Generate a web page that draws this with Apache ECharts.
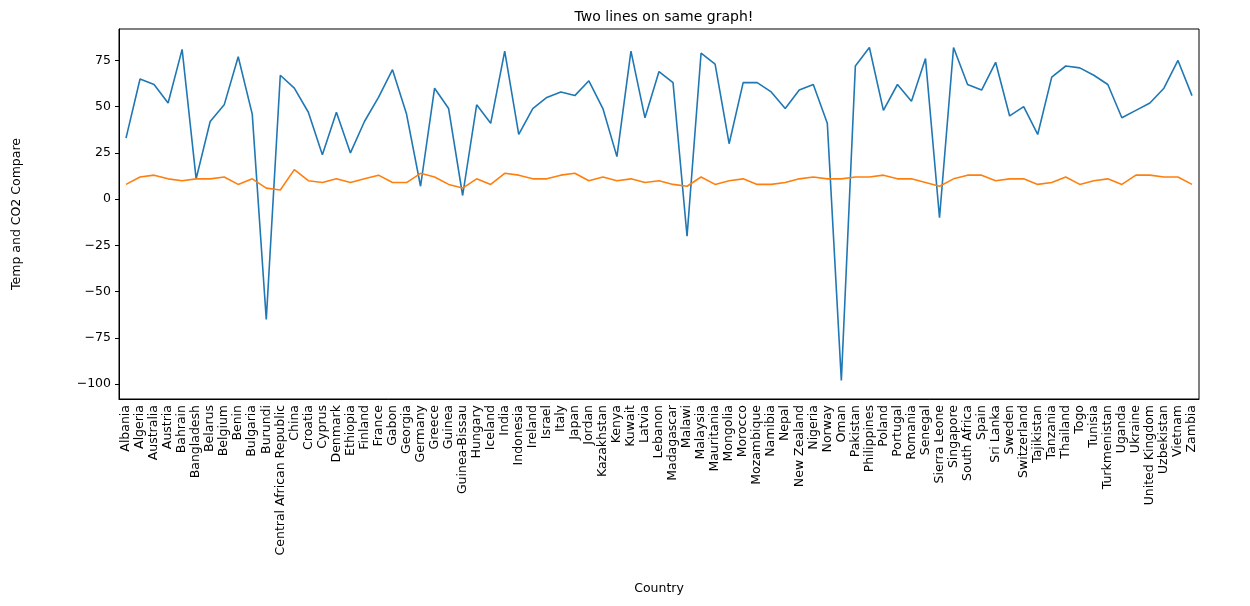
<!DOCTYPE html>
<html>
<head>
<meta charset="utf-8">
<script src="https://cdn.jsdelivr.net/npm/echarts@6/dist/echarts.min.js"></script>
<style>html,body{margin:0;background:#fff}#c{width:1250px;height:606px}</style>
</head>
<body>
<div id="c"></div>
<script>
var countries = ['Albania','Algeria','Australia','Austria','Bahrain','Bangladesh','Belarus','Belgium','Benin','Bulgaria','Burundi','Central African Republic','China','Croatia','Cyprus','Denmark','Ethiopia','Finland','France','Gabon','Georgia','Germany','Greece','Guinea','Guinea-Bissau','Hungary','Iceland','India','Indonesia','Ireland','Israel','Italy','Japan','Jordan','Kazakhstan','Kenya','Kuwait','Latvia','Lebanon','Madagascar','Malawi','Malaysia','Mauritania','Mongolia','Morocco','Mozambique','Namibia','Nepal','New Zealand','Nigeria','Norway','Oman','Pakistan','Philippines','Poland','Portugal','Romania','Senegal','Sierra Leone','Singapore','South Africa','Spain','Sri Lanka','Sweden','Switzerland','Tajikistan','Tanzania','Thailand','Togo','Tunisia','Turkmenistan','Uganda','Ukraine','United Kingdom','Uzbekistan','Vietnam','Zambia'];

var blueLine = [33,65,62,52,81,11,42,51,77,46,-65,67,60,47,24,47,25,42,55,70,46,7,60,49,2,51,41,80,35,49,55,58,56,64,49,23,80,44,69,63,-20,79,73,30,63,63,58,49,59,62,41,-98,72,82,48,62,53,76,-10,82,62,59,74,45,50,35,66,72,71,67,62,44,48,52,60,75,56];

var orangeLine = [8,12,13,11,10,11,11,12,8,11,6,5,16,10,9,11,9,11,13,9,9,14,12,8,6,11,8,14,13,11,11,13,14,10,12,10,11,9,10,8,7,12,8,10,11,8,8,9,11,12,11,11,12,12,13,11,11,9,7,11,13,13,10,11,11,8,9,12,8,10,11,8,13,13,12,12,8];

var yTicks = [-100,-75,-50,-25,0,25,50,75];

var chart = echarts.init(document.getElementById('c'));
var font = 'DejaVu Sans';
chart.setOption({
  animation: false,
  textStyle: { fontFamily: font },
  title: {
    text: 'Two lines on same graph!', left: 659, top: 5, textAlign: 'center',
    textStyle: { fontSize: 14, fontWeight: 'normal', color: '#000', fontFamily: font }
  },
  grid: { left: 119, top: 29, width: 1080, height: 370, show: true, borderColor: '#000', borderWidth: 1 },
  xAxis: {
    type: 'category', data: countries, boundaryGap: true,
    name: 'Country', nameLocation: 'middle', nameGap: 183,
    nameTextStyle: { fontSize: 12.5, color: '#000' },
    axisLine: { onZero: false, lineStyle: { color: '#000' } },
    axisTick: { alignWithLabel: true, length: 4, lineStyle: { color: '#000' } },
    axisLabel: { rotate: 90, interval: 0, fontSize: 12.5, color: '#000', margin: 6 },
    splitLine: { show: false }
  },
  yAxis: {
    type: 'value', min: -108, max: 92,
    name: 'Temp and CO2 Compare', nameLocation: 'middle', nameGap: 96,
    nameTextStyle: { fontSize: 12.5, color: '#000' },
    axisLine: { show: true, lineStyle: { color: '#000' } },
    axisTick: { show: true, length: 4, customValues: yTicks, lineStyle: { color: '#000' } },
    axisLabel: { customValues: yTicks, fontSize: 12.5, color: '#000', formatter: function (v) { return String(v).replace('-', '\u2212'); } },
    splitLine: { show: false }
  },
  series: [
    { type: 'line', data: blueLine, showSymbol: false, lineStyle: { color: '#1f77b4', width: 1.6 } },
    { type: 'line', data: orangeLine, showSymbol: false, lineStyle: { color: '#ff7f0e', width: 1.6 } }
  ]
});
</script>
</body>
</html>
